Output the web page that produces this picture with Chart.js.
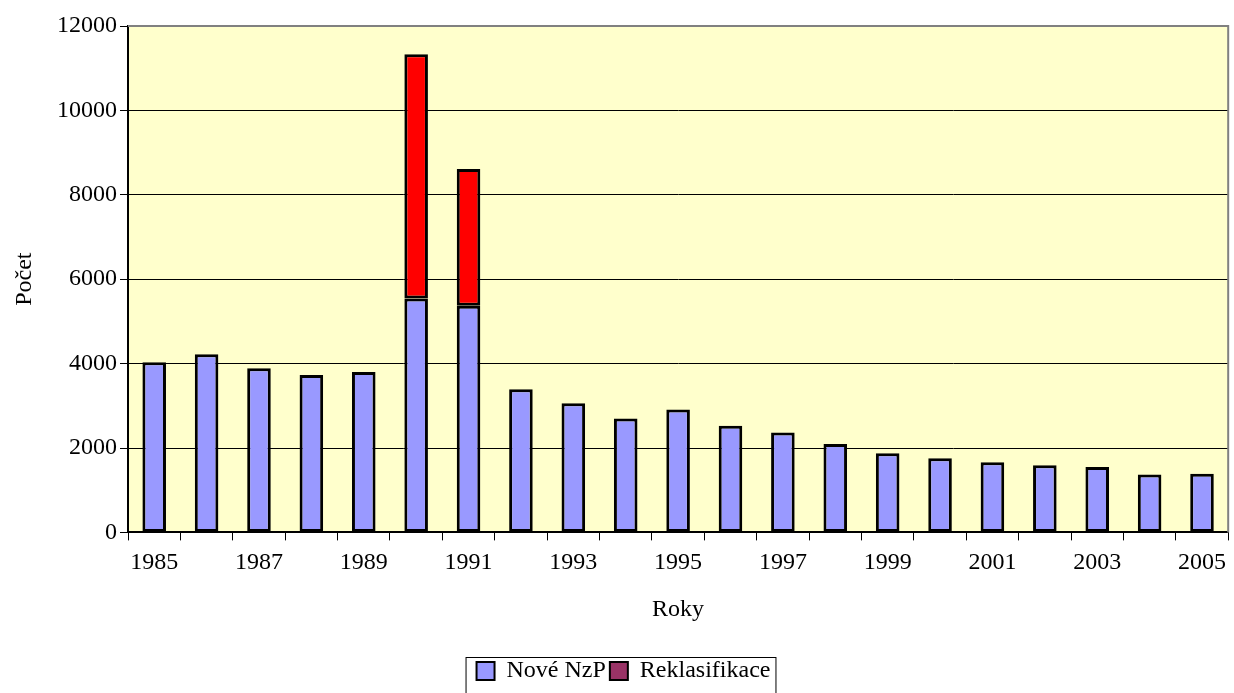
<!DOCTYPE html>
<html>
<head>
<meta charset="utf-8">
<script src="https://cdn.jsdelivr.net/npm/chart.js@4"></script>
<style>
  html, body { margin: 0; padding: 0; background: #fff; }
  #wrap { width: 1234px; height: 693px; }
</style>
</head>
<body>
<div id="wrap"><canvas id="myChart"></canvas></div>
<script>
const years = ["1985", "1986", "1987", "1988", "1989", "1990", "1991", "1992", "1993", "1994", "1995",
  "1996", "1997", "1998", "1999", "2000", "2001", "2002", "2003", "2004", "2005"];
const noveNzP = [4030, 4220, 3890, 3730, 3800, 5540, 5370, 3390, 3060, 2700, 2910,
  2530, 2365, 2095, 1875, 1755, 1665, 1590, 1550, 1375, 1390];
const reklasifikace = [null, null, null, null, null, 5790, 3240, null, null, null, null,
  null, null, null, null, null, null, null, null, null, null];
const yTicks = [0, 2000, 4000, 6000, 8000, 10000, 12000];

const serif = "'Liberation Serif', 'Times New Roman', serif";
const font24 = { family: serif, size: 24 };
Chart.defaults.font.family = serif;
Chart.defaults.font.size = 24;
Chart.defaults.color = "#000";

// plot background + grey frame on top/right
const plotFrame = {
  id: "plotFrame",
  beforeDraw(chart) {
    const { ctx, chartArea: a } = chart;
    ctx.save();
    ctx.fillStyle = "#FFFFCC";
    ctx.fillRect(a.left, a.top, a.right - a.left, a.bottom - a.top);
    ctx.restore();
  },
  afterDraw(chart) {
    const { ctx, chartArea: a } = chart;
    ctx.save();
    ctx.strokeStyle = "#808080";
    ctx.lineWidth = 2;
    ctx.beginPath();
    ctx.moveTo(a.left, a.top);
    ctx.lineTo(a.right, a.top);
    ctx.lineTo(a.right, a.bottom);
    ctx.stroke();
    ctx.restore();
  },
};

// box round the legend
const legendBox = {
  id: "legendBox",
  afterDraw(chart) {
    const boxes = chart.legend.legendHitBoxes;
    if (!boxes || !boxes.length) return;
    const first = boxes[0];
    const last = boxes[boxes.length - 1];
    const { ctx } = chart;
    ctx.save();
    ctx.strokeStyle = "#000";
    ctx.lineWidth = 1;
    ctx.strokeRect(first.left - 10.5, first.top - 1.5, last.left + last.width - first.left + 16, 60);
    ctx.restore();
  },
};

const ctx = document.getElementById("myChart");

new Chart(ctx, {
  type: "bar",
  data: {
    labels: years,
    datasets: [
      {
        label: "Nové NzP",
        data: noveNzP,
        backgroundColor: "#9999FF",
        borderColor: "#000",
        borderWidth: 3,
        borderSkipped: false,
        barPercentage: 0.45,
        categoryPercentage: 1,
      },
      {
        label: "Reklasifikace",
        data: reklasifikace,
        backgroundColor: "#FF0000",
        borderColor: "#000",
        borderWidth: 3,
        borderSkipped: false,
        barPercentage: 0.45,
        categoryPercentage: 1,
      },
    ],
  },
  options: {
    responsive: true,
    maintainAspectRatio: false,
    animation: false,
    layout: {
      padding: { top: 26, right: -3, left: 10, bottom: 0 },
    },
    scales: {
      x: {
        stacked: true,
        offset: true,
        grid: {
          offset: true,
          drawOnChartArea: false,
          color: "#000",
          tickLength: 8,
        },
        border: { color: "#000", width: 2 },
        ticks: {
          font: font24,
          autoSkip: false,
          maxRotation: 0,
          padding: 8,
          callback: (v, i) => (i % 2 === 0 ? years[i] : ""),
        },
        title: {
          display: true,
          text: "Roky",
          font: font24,
          padding: { top: 10, bottom: 31 },
        },
      },
      y: {
        stacked: true,
        min: 0,
        max: 12000,
        afterBuildTicks: (axis) => {
          axis.ticks = yTicks.map((v) => ({ value: v }));
        },
        afterFit: (axis) => {
          axis.width = 118;
        },
        grid: {
          color: "#000",
          lineWidth: 1,
          tickLength: 8,
        },
        border: { color: "#000", width: 2 },
        ticks: { font: font24, padding: 3, callback: (v) => String(v) },
        title: {
          display: true,
          text: "Počet",
          font: font24,
          padding: { top: 0, bottom: 16 },
        },
      },
    },
    plugins: {
      legend: {
        position: "bottom",
        labels: {
          font: font24,
          boxWidth: 18,
          boxHeight: 18,
          padding: 4,
          generateLabels: (chart) =>
            chart.data.datasets.map((ds, i) => ({
              text: ds.label,
              fillStyle: i === 0 ? "#9999FF" : "#993366",
              strokeStyle: "#000",
              lineWidth: 2,
              datasetIndex: i,
              hidden: false,
            })),
        },
      },
      tooltip: { enabled: false },
    },
  },
  plugins: [plotFrame, legendBox],
});
</script>
</body>
</html>
